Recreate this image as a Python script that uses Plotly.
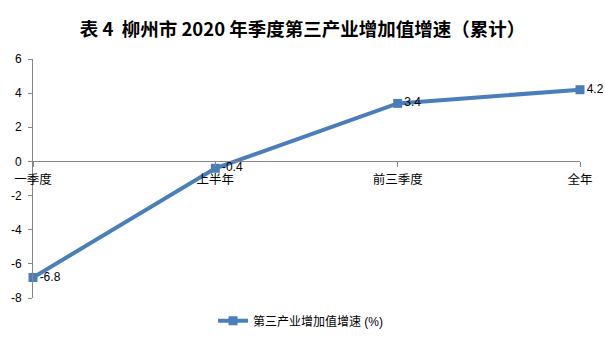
import plotly.graph_objects as go

categories = ["一季度", "上半年", "前三季度", "全年"]
values = [-6.8, -0.4, 3.4, 4.2]
labels = ["-6.8", "-0.4", "3.4", "4.2"]
ytick_vals = [-8, -6, -4, -2, 0, 2, 4, 6]
ytick_text = ["-8", "-6", "-4", "-2", "0", "2", "4", "6"]
series_name = "第三产业增加值增速 (%)"
title_text = "表 4  柳州市 2020 年季度第三产业增加值增速（累计）"

FONT = "Liberation Sans, Arial, Noto Sans CJK SC, sans-serif"
CJK = "Noto Sans CJK SC, sans-serif"
BLUE = "#4A7EBB"
AX = "#868686"

fig = go.Figure()
fig.add_trace(go.Scatter(
    x=categories, y=values, mode="lines+markers+text",
    name=series_name,
    line=dict(color=BLUE, width=4),
    marker=dict(symbol="square", size=9, color=BLUE),
    text=labels, textposition="middle right",
    textfont=dict(family=FONT, size=12, color="#000000"),
    cliponaxis=False,
))

ymin, ymax = -8, 6
fig.update_layout(
    width=605, height=340,
    margin=dict(l=33, r=25, t=59, b=42, autoexpand=False),
    paper_bgcolor="white", plot_bgcolor="white",
    title=dict(text="<b>" + title_text + "</b>", x=0.5, xanchor="center",
               y=1 - 30 / 340, yanchor="middle",
               font=dict(family=CJK, size=18.5, color="#000000")),
    font=dict(family=FONT, size=12, color="#000000"),
    showlegend=True,
    legend=dict(orientation="h", x=0.49, xanchor="center", y=-0.035, yanchor="top",
                font=dict(family=FONT, size=12, color="#000000"),
                itemwidth=30),
    xaxis=dict(
        type="category", range=[0, 3], showgrid=False, zeroline=False,
        showline=True, linecolor=AX, linewidth=1,
        ticks="outside", ticklen=5, tickcolor=AX,
        anchor="free", position=(0 - ymin) / (ymax - ymin),
        ticklabelstandoff=2,
        tickfont=dict(family=CJK, size=12.5),
    ),
    yaxis=dict(
        range=[ymin, ymax], tickvals=ytick_vals, ticktext=ytick_text,
        showgrid=False, zeroline=False,
        showline=True, linecolor=AX, linewidth=1,
        ticks="outside", ticklen=4, tickcolor=AX,
        ticklabelstandoff=4,
        tickfont=dict(family=FONT, size=12),
    ),
)

fig.write_html("out.html")
